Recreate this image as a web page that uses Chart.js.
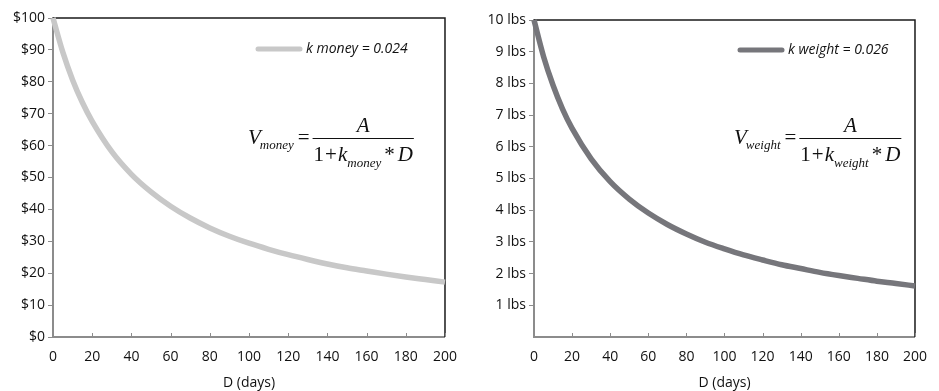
<!DOCTYPE html>
<html lang="en">
<head>
<meta charset="UTF-8" />
<title>Hyperbolic discounting: money vs weight</title>
<script src="https://cdn.jsdelivr.net/npm/chart.js"></script>
<style>
  body { margin: 0; background: #fff; }
  .panel { position: absolute; top: 0; width: 469px; height: 391px; }
</style>
</head>
<body>
<div class="panel" style="left:0"><canvas id="moneyChart" width="469" height="391"></canvas></div>
<div class="panel" style="left:470px"><canvas id="weightChart" width="469" height="391"></canvas></div>

<script>
// values
const days = [0, 5, 10, 15, 20, 30, 40, 50, 60, 70, 80, 90, 100, 110, 120, 130, 140, 150, 160, 170, 180, 190, 200];
const moneyValues = [100, 89.3, 80.6, 73.5, 67.6, 58.1, 51.0, 45.5, 41.0, 37.3, 34.2, 31.6, 29.4, 27.5, 25.8, 24.3, 22.9, 21.7, 20.7, 19.7, 18.8, 18.0, 17.2];
const weightValues = [10, 8.85, 7.94, 7.19, 6.58, 5.62, 4.90, 4.35, 3.91, 3.55, 3.25, 2.99, 2.78, 2.59, 2.43, 2.28, 2.16, 2.04, 1.94, 1.85, 1.76, 1.69, 1.61];
const dayTicks = [0, 20, 40, 60, 80, 100, 120, 140, 160, 180, 200];
const moneyTicks = [0, 10, 20, 30, 40, 50, 60, 70, 80, 90, 100];
const weightTicks = [1, 2, 3, 4, 5, 6, 7, 8, 9, 10];
const moneyLabel = "k money = 0.024";
const weightLabel = "k weight = 0.026";

const axisGray = "#8c8c8c";
const tickFont = { family: "'Open Sans'", size: 14 };

// top/right black frame and inward x ticks
const framePlugin = {
  id: "frame",
  beforeDatasetsDraw(chart) {
    const { ctx, chartArea: a, scales } = chart;
    ctx.save();
    ctx.strokeStyle = "#1a1a1a";
    ctx.lineWidth = 1.5;
    ctx.beginPath();
    ctx.moveTo(a.left, a.top);
    ctx.lineTo(a.right, a.top);
    ctx.lineTo(a.right, a.bottom);
    ctx.stroke();
    ctx.strokeStyle = axisGray;
    ctx.lineWidth = 1;
    scales.x.ticks.forEach(t => {
      const px = Math.round(scales.x.getPixelForValue(t.value)) + 0.5;
      ctx.beginPath();
      ctx.moveTo(px, a.bottom);
      ctx.lineTo(px, a.bottom - 4);
      ctx.stroke();
    });
    ctx.restore();
  }
};

// legend line + label inside plot
const insideLegend = {
  id: "insideLegend",
  afterDraw(chart, args, opts) {
    const ctx = chart.ctx;
    const ds = chart.data.datasets[0];
    ctx.save();
    ctx.strokeStyle = ds.borderColor;
    ctx.lineWidth = 5;
    ctx.lineCap = "round";
    ctx.beginPath();
    ctx.moveTo(opts.x, opts.y);
    ctx.lineTo(opts.x + 42, opts.y);
    ctx.stroke();
    ctx.fillStyle = "#111";
    ctx.font = "italic 14px 'Open Sans'";
    ctx.textBaseline = "middle";
    ctx.fillText(ds.label, opts.x + 48, opts.y);
    ctx.restore();
  }
};

// V = A / (1 + k * D)
const formulaPlugin = {
  id: "formula",
  afterDraw(chart, args, opts) {
    const ctx = chart.ctx;
    const big = "italic 21px 'Liberation Serif'";
    const up = "21px 'Liberation Serif'";
    const small = "italic 13px 'Liberation Serif'";
    const y = opts.y;
    ctx.save();
    ctx.fillStyle = "#111";
    ctx.textBaseline = "alphabetic";
    let cx = opts.x;
    ctx.font = big; ctx.fillText("V", cx, y + 6); cx += ctx.measureText("V").width;
    ctx.font = small; ctx.fillText(opts.sub, cx - 1, y + 11); cx += ctx.measureText(opts.sub).width + 3;
    ctx.font = up; ctx.fillText("=", cx, y + 6); cx += ctx.measureText("=").width + 3;

    // [text, font, baseline shift, gap after]
    const parts = [["1", up, 0, 1], ["+", up, 0, 1], ["k", big, 0, 0], [opts.sub, small, 6, -1], ["*", up, 0, 3], ["D", big, 0, 0]];
    let w = 0;
    parts.forEach(p => { ctx.font = p[1]; w += ctx.measureText(p[0]).width + p[3]; });
    w += 4; // space before "*"
    const barL = cx, barR = cx + w + 2;
    ctx.strokeStyle = "#111";
    ctx.lineWidth = 1;
    ctx.beginPath();
    ctx.moveTo(barL, y + 0.5);
    ctx.lineTo(barR, y + 0.5);
    ctx.stroke();

    ctx.font = big;
    ctx.textAlign = "center";
    ctx.fillText("A", (barL + barR) / 2, y - 6);
    ctx.textAlign = "left";
    let dx = barL + 1;
    parts.forEach(p => {
      if (p[0] === "*") dx += 4;
      ctx.font = p[1];
      ctx.fillText(p[0], dx, y + 23 + p[2]);
      dx += ctx.measureText(p[0]).width + p[3];
    });
    ctx.restore();
  }
};

function makeChart(id, opt) {
  return new Chart(document.getElementById(id), {
    type: "line",
    data: {
      datasets: [{
        label: opt.label,
        data: days.map((d, i) => ({ x: d, y: opt.values[i] })),
        borderColor: opt.color,
        borderWidth: 5.5,
        pointRadius: 0,
        cubicInterpolationMode: "monotone",
        fill: false,
        clip: false
      }]
    },
    plugins: [framePlugin, insideLegend, formulaPlugin],
    options: {
      responsive: false,
      animation: false,
      layout: { padding: { top: opt.top, right: opt.right, left: 0, bottom: 0 } },
      plugins: {
        legend: { display: false },
        tooltip: { enabled: false },
        insideLegend: opt.legend,
        formula: opt.formula
      },
      scales: {
        x: {
          type: "linear",
          min: 0,
          max: 200,
          afterBuildTicks: s => { s.ticks = dayTicks.map(v => ({ value: v })); },
          afterFit: s => { s.height = 54; },
          grid: { drawOnChartArea: false, drawTicks: false },
          border: { color: axisGray, width: 2 },
          ticks: { color: "#111", font: tickFont, padding: 12, maxRotation: 0 },
          title: { display: true, text: "D (days)", color: "#111", font: tickFont, padding: 0 }
        },
        y: {
          min: opt.yMin,
          max: opt.yMax,
          afterBuildTicks: s => { s.ticks = opt.yTicks.map(v => ({ value: v })); },
          afterFit: s => { s.width = opt.yWidth; },
          grid: { drawOnChartArea: false, drawTicks: true, tickLength: 5, color: axisGray },
          border: { color: axisGray, width: 2 },
          ticks: { color: "#111", font: tickFont, padding: 3, callback: opt.fmt }
        }
      }
    }
  });
}

makeChart("moneyChart", {
  label: moneyLabel,
  values: moneyValues,
  color: "#c8c8c8",
  top: 18, right: 22, yWidth: 53,
  yMin: 0, yMax: 100, yTicks: moneyTicks,
  fmt: v => "$" + v,
  legend: { x: 258, y: 49 },
  formula: { x: 248, y: 138, sub: "money" }
});

makeChart("weightChart", {
  label: weightLabel,
  values: weightValues,
  color: "#76767b",
  top: 20, right: 11, yWidth: 64,
  yMin: 0, yMax: 10, yTicks: weightTicks,
  fmt: v => v + " lbs",
  legend: { x: 270, y: 50 },
  formula: { x: 264, y: 138, sub: "weight" }
});
</script>
</body>
</html>
